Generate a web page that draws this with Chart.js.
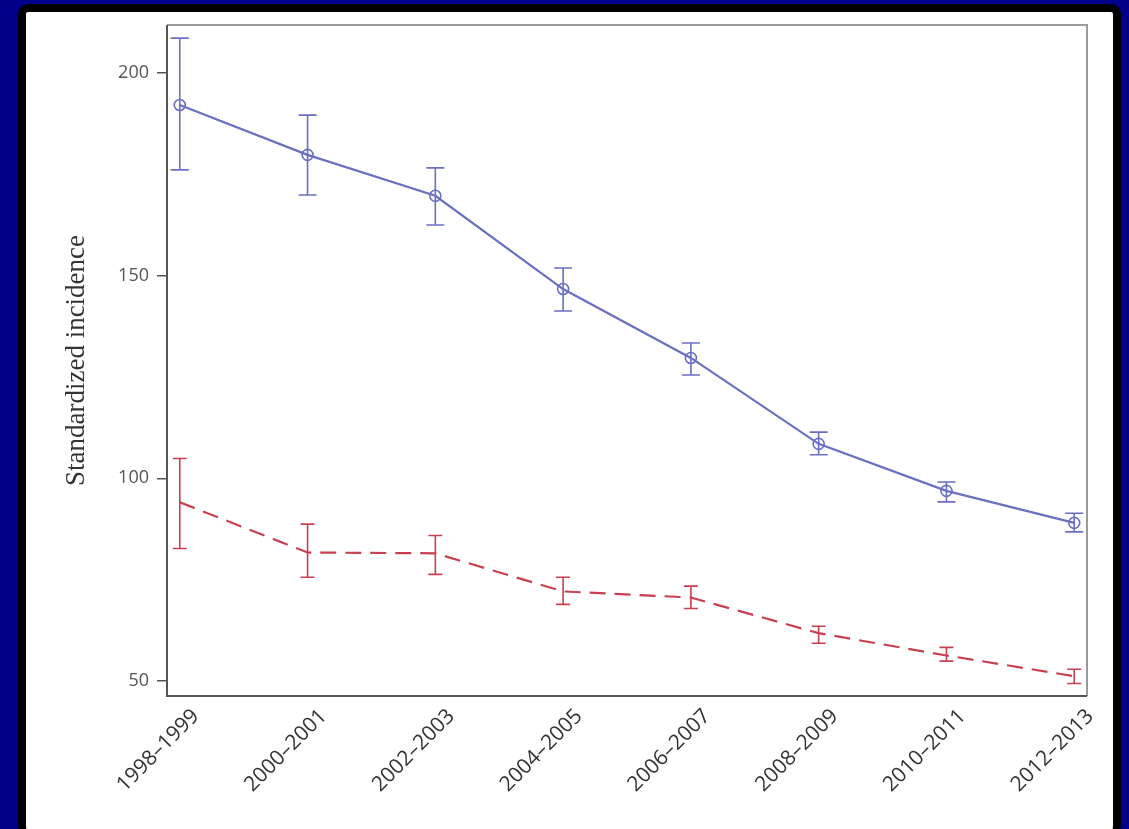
<!DOCTYPE html>
<html>
<head>
<meta charset="utf-8">
<script src="https://cdn.jsdelivr.net/npm/chart.js@4/dist/chart.umd.min.js"></script>
<style>
  html, body { margin: 0; padding: 0; background: #00008a; width: 1129px; height: 829px; overflow: hidden; }
  #panel {
    position: absolute; left: 18px; top: 4px; width: 1087px; height: 820px;
    background: #fff; border: 8px solid #000; border-bottom-width: 3px; border-radius: 10px;
  }
  #chart { position: absolute; left: 0; top: 0; }
</style>
</head>
<body>
<div id="panel"></div>
<canvas id="chart" width="1129" height="829"></canvas>
<script>
// periods on the x axis
const periods = ["1998–1999", "2000–2001", "2002–2003", "2004–2005", "2006–2007", "2008–2009", "2010–2011", "2012–2013"];
const yTicks = [50, 100, 150, 200];

// blue series (solid, circles)
const blueMean  = [192.1, 179.8, 169.7, 146.7, 129.7, 108.5, 96.9, 89.0];
const blueUpper = [208.6, 189.6, 176.6, 151.9, 133.4, 111.4, 99.1, 91.4];
const blueLower = [176.1, 169.9, 162.5, 141.3, 125.5, 105.8, 94.2, 86.8];

// red series (dashed)
const redMean  = [94.1, 81.7, 81.5, 72.1, 70.6, 61.8, 56.3, 51.2];
const redUpper = [104.9, 88.7, 85.9, 75.6, 73.4, 63.5, 58.3, 52.9];
const redLower = [82.7, 75.6, 76.3, 68.9, 67.9, 59.3, 54.9, 49.4];

const BLUE = "#6a6fc2";
const RED = "#c8404f";

// error bars drawn through the chart scales
const errorBars = {
    id: "errorBars",
    afterDatasetsDraw(chart) {
        const ctx = chart.ctx;
        const xs = chart.scales.x, ys = chart.scales.y;
        chart.data.datasets.forEach(ds => {
            ctx.save();
            ctx.strokeStyle = ds.borderColor;
            ctx.lineWidth = 1.6;
            ds.upper.forEach((u, i) => {
                const x = xs.getPixelForValue(i);
                const yU = ys.getPixelForValue(u);
                const yL = ys.getPixelForValue(ds.lower[i]);
                const w = ds.capWidth / 2;
                ctx.beginPath();
                ctx.moveTo(x, yU); ctx.lineTo(x, yL);
                ctx.moveTo(x - w, yU); ctx.lineTo(x + w, yU);
                ctx.moveTo(x - w, yL); ctx.lineTo(x + w, yL);
                ctx.stroke();
            });
            ctx.restore();
        });
    }
};

// plot frame
const frame = {
    id: "frame",
    beforeDatasetsDraw(chart) {
        const {ctx, chartArea: a} = chart;
        ctx.save();
        ctx.strokeStyle = "#9a9a9a";
        ctx.lineWidth = 2;
        ctx.beginPath();
        ctx.moveTo(a.left, a.top); ctx.lineTo(a.right, a.top); ctx.lineTo(a.right, a.bottom);
        ctx.stroke();
        ctx.strokeStyle = "#555";
        ctx.beginPath();
        ctx.moveTo(a.left, a.top); ctx.lineTo(a.left, a.bottom); ctx.lineTo(a.right, a.bottom);
        ctx.stroke();
        ctx.restore();
    }
};

new Chart(document.getElementById("chart"), {
    type: "line",
    data: {
        datasets: [
            {
                data: periods.map((p, i) => ({x: i, y: blueMean[i]})),
                upper: blueUpper, lower: blueLower, capWidth: 18,
                borderColor: BLUE,
                borderWidth: 2.2,
                pointRadius: 5.5,
                pointBorderWidth: 1.6,
                pointBackgroundColor: "rgba(255,255,255,0)",
                pointBorderColor: BLUE,
                tension: 0
            },
            {
                data: periods.map((p, i) => ({x: i, y: redMean[i]})),
                upper: redUpper, lower: redLower, capWidth: 14,
                borderColor: RED,
                borderWidth: 2.2,
                borderDash: [16, 9],
                pointRadius: 0,
                tension: 0
            }
        ]
    },
    options: {
        responsive: false,
        animation: false,
        layout: { padding: { left: 26, top: 25, right: 42, bottom: 2 } },
        plugins: { legend: { display: false }, tooltip: { enabled: false } },
        scales: {
            x: {
                type: "linear",
                min: -0.1,
                max: 7.1,
                afterBuildTicks: s => { s.ticks = periods.map((p, i) => ({value: i})); },
                afterFit: s => { s.height = 131; },
                border: { display: false },
                grid: { display: false },
                ticks: {
                    autoSkip: false,
                    minRotation: 45,
                    maxRotation: 45,
                    padding: 0,
                    labelOffset: 16,
                    color: "#333",
                    font: { family: "Open Sans", size: 21 },
                    callback: v => periods[v]
                }
            },
            y: {
                min: 46.3,
                max: 211.84,
                afterBuildTicks: s => { s.ticks = yTicks.map(v => ({value: v})); },
                afterFit: s => { s.width = 141; },
                border: { display: false },
                grid: { drawOnChartArea: false, drawTicks: true, tickLength: 10, color: "#555", lineWidth: 1.5 },
                ticks: {
                    padding: 8,
                    color: "#555",
                    font: { family: "Open Sans", size: 18 }
                },
                title: {
                    display: true,
                    text: "Standardized incidence",
                    color: "#333",
                    font: { family: "Liberation Serif", size: 27 },
                    padding: { top: 35 }
                }
            }
        }
    },
    plugins: [frame, errorBars]
});
</script>
</body>
</html>
